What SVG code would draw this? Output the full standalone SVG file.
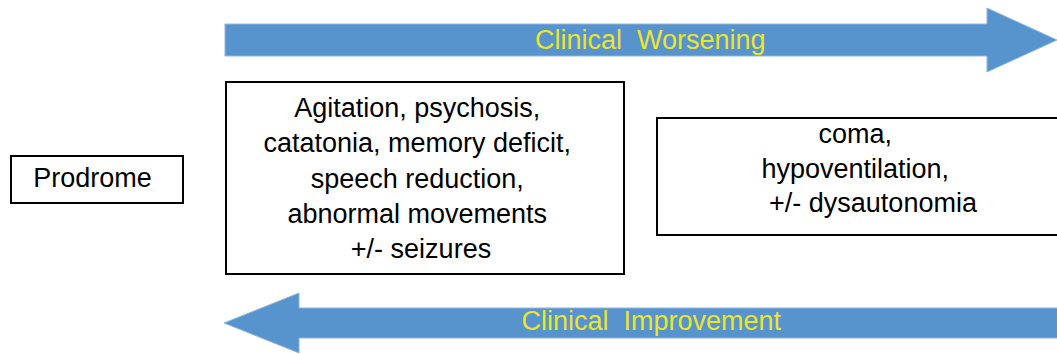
<svg xmlns="http://www.w3.org/2000/svg" width="1057" height="354" viewBox="0 0 1057 354">
  <style>
    .box { fill: #ffffff; stroke: #000000; stroke-width: 2; }
    .label { font-family: "Liberation Sans", Arial, sans-serif; font-size: 27px; fill: #000000; text-anchor: middle; }
    .band { fill: #5793cc; stroke: #8fb5df; stroke-width: 1; }
    .band-text { font-family: "Liberation Sans", Arial, sans-serif; font-size: 27px; fill: #ece42e; white-space: pre; }
  </style>

  <g id="connectors">
    <!-- worsening direction, left to right -->
    <g id="arrow-worsening">
      <polygon class="band" points="225,24 987,24 987,8 1057,40 987,72 987,56 225,56"/>
      <text class="band-text" x="535" y="48.5" xml:space="preserve">Clinical  Worsening</text>
    </g>
    <!-- improvement direction, right to left -->
    <g id="arrow-improvement">
      <polygon class="band" points="1058,308 299,308 299,293 224,323 299,353 299,338 1058,338"/>
      <text class="band-text" x="521.5" y="330" xml:space="preserve">Clinical  Improvement</text>
    </g>
  </g>

  <g id="prodrome">
    <rect class="box" x="11" y="156" width="172" height="47"/>
    <text class="label" x="92.5" y="186.5">Prodrome</text>
  </g>

  <g id="early-stage">
    <rect class="box" x="226" y="82" width="398" height="192"/>
    <text class="label">
      <tspan x="421" y="116.7">Agitation, psychosis,</tspan>
      <tspan x="421" y="152.1">catatonia, memory deficit,</tspan>
      <tspan x="421" y="187.5">speech reduction,</tspan>
      <tspan x="421" y="222.9">abnormal movements</tspan>
      <tspan x="421" y="258.3">+/- seizures</tspan>
    </text>
  </g>

  <g id="late-stage">
    <rect class="box" x="657" y="118" width="410" height="117"/>
    <text class="label">
      <tspan x="859" y="143">coma,</tspan>
      <tspan x="859" y="177.5">hypoventilation,</tspan>
      <tspan x="873" y="212">+/- dysautonomia</tspan>
    </text>
  </g>
</svg>
